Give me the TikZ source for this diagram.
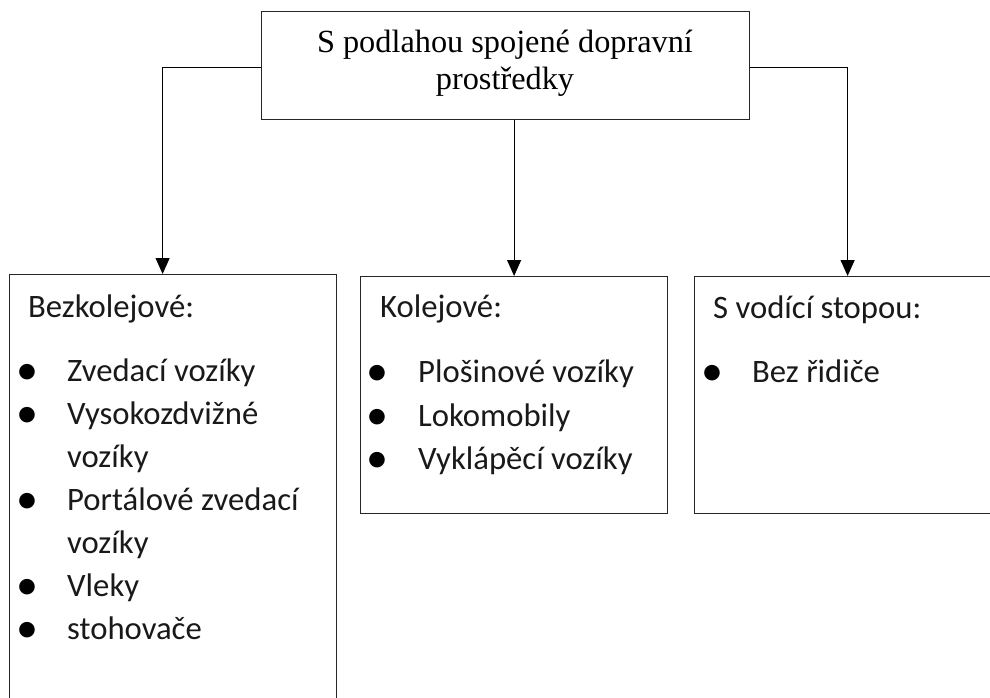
\documentclass[tikz,border=0pt]{standalone}
\usepackage{fontspec}
\setmainfont{Liberation Serif}
\newfontfamily\calfont{Carlito}
\usetikzlibrary{arrows.meta}
\begin{document}
\begin{tikzpicture}[x=1pt,y=-1pt,
  box/.style={draw=black!85,line width=1.2pt,rectangle,inner sep=0pt,anchor=north west},
  arr/.style={draw=black,line width=1.1pt,-{Triangle[width=14pt,length=16pt]}},
  ttl/.style={font=\fontsize{32.3}{37}\selectfont,anchor=base,inner sep=0pt},
  itm/.style={font=\calfont\fontsize{32.7}{38}\selectfont,anchor=base west,inner sep=0pt,text=black!90},
  bul/.style={font=\calfont\fontsize{44}{48}\selectfont,anchor=base,inner sep=0pt,yshift=-3.5pt}]
\useasboundingbox (0,0) rectangle (990,698);
\clip (0,0) rectangle (990,698);
% boxes
\node[box,minimum width=488pt,minimum height=108pt] (top) at (261,11) {};
\node[box,minimum width=327pt,minimum height=460pt] (b1) at (9,274) {};
\node[box,minimum width=307pt,minimum height=237pt] (b2) at (360,276) {};
\node[box,minimum width=306pt,minimum height=237pt] (b3) at (694,276) {};
% title text
\node[ttl] (t1) at (505,53) {S podlahou spojené dopravní};
\node[ttl] (t2) at (505,90) {prostředky};
% connectors
\draw[arr] ([yshift=-2pt]top.west) -| ([xshift=-10.5pt]b1.north);
\draw[arr] (b2.north |- top.south) -- (b2.north);
\draw[arr] ([yshift=-2pt]top.east) -| (b3.north);
% left box
\node[itm] (h1) at (28,317) {Bezkolejové:};
\node[bul] (p11) at (27,381) {•};
\node[itm] (l11) at (67,381) {Zvedací vozíky};
\node[bul] (p12) at (27,424) {•};
\node[itm] (l12) at (67,424) {Vysokozdvižné};
\node[itm] (l12b) at (67,467) {vozíky};
\node[bul] (p13) at (27,510) {•};
\node[itm] (l13) at (67,510) {Portálové zvedací};
\node[itm] (l13b) at (67,553) {vozíky};
\node[bul] (p14) at (27,596) {•};
\node[itm] (l14) at (67,596) {Vleky};
\node[bul] (p15) at (27,639) {•};
\node[itm] (l15) at (67,639) {stohovače};
% middle box
\node[itm] (h2) at (380,317) {Kolejové:};
\node[bul] (p21) at (377,382) {•};
\node[itm] (l21) at (418,382) {Plošinové vozíky};
\node[bul] (p22) at (377,426) {•};
\node[itm] (l22) at (418,426) {Lokomobily};
\node[bul] (p23) at (377,469) {•};
\node[itm] (l23) at (418,469) {Vyklápěcí vozíky};
% right box
\node[itm] (h3) at (713,318) {S vodící stopou:};
\node[bul] (p31) at (712,382) {•};
\node[itm] (l31) at (752,382) {Bez řidiče};
\end{tikzpicture}
\end{document}
